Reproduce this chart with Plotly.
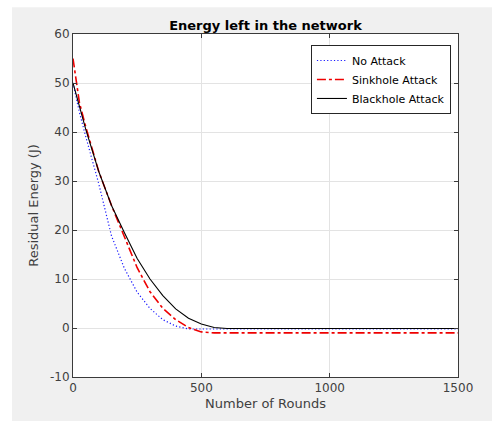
import plotly.graph_objects as go

# Data
rounds_no = [0, 25, 50, 100, 150, 200, 250, 300, 350, 400, 450, 500, 600, 800, 1000, 1200, 1500]
energy_no = [50, 44, 39, 29.5, 18.8, 12.2, 7.3, 4.0, 1.7, 0.4, -0.2, -0.2, -0.2, -0.2, -0.2, -0.2, -0.2]

rounds_sink = [0, 10, 25, 50, 100, 150, 200, 250, 300, 350, 400, 450, 500, 550, 600, 800, 1000, 1200, 1500]
energy_sink = [55, 51, 46, 41, 32, 25, 18.5, 12.3, 7.4, 4.0, 1.7, 0.1, -0.8, -1.0, -1.0, -1.0, -1.0, -1.0, -1.0]

rounds_black = [0, 25, 50, 100, 150, 200, 250, 300, 350, 400, 450, 500, 550, 600, 800, 1000, 1200, 1500]
energy_black = [50, 45, 40.5, 32, 25, 19.5, 14.2, 10, 6.6, 3.9, 2.0, 0.8, 0.1, -0.1, -0.1, -0.1, -0.1, -0.1]

x_ticks = [0, 500, 1000, 1500]
x_tick_labels = ["0", "500", "1000", "1500"]
y_ticks = [-10, 0, 10, 20, 30, 40, 50, 60]
y_tick_labels = ["-10", "0", "10", "20", "30", "40", "50", "60"]

fig = go.Figure()
fig.add_trace(go.Scatter(x=rounds_no, y=energy_no, mode="lines", name="No Attack",
                         line=dict(color="#1a1aff", width=1.2, dash="1.2px,2.2px")))
fig.add_trace(go.Scatter(x=rounds_sink, y=energy_sink, mode="lines", name="Sinkhole Attack",
                         line=dict(color="#ee0000", width=1.6, dash="dashdot")))
fig.add_trace(go.Scatter(x=rounds_black, y=energy_black, mode="lines", name="Blackhole Attack",
                         line=dict(color="#000000", width=1.1)))

font = "DejaVu Sans"
axis_common = dict(
    showgrid=True, gridcolor="#e3e3e3", gridwidth=1,
    showline=True, linecolor="#3a3a3a", linewidth=1, mirror="ticks",
    ticks="inside", ticklen=4, tickcolor="#3a3a3a",
    zeroline=False,
    tickfont=dict(family=font, size=12, color="#404040"),
)

fig.update_layout(
    width=492, height=421,
    margin=dict(l=73, r=34, t=34, b=41),
    paper_bgcolor="white", plot_bgcolor="white",
    title=dict(text="<b>Energy left in the network</b>", x=0.5, xanchor="center",
               xref="paper", y=1 - 25 / 421, yanchor="middle",
               font=dict(family=font, size=13, color="#000000")),
    xaxis=dict(range=[0, 1500], tickvals=x_ticks, ticktext=x_tick_labels,
               title=dict(text="Number of Rounds", standoff=4,
                          font=dict(family=font, size=13, color="#404040")),
               **axis_common),
    yaxis=dict(range=[-10, 60], tickvals=y_ticks, ticktext=y_tick_labels,
               title=dict(text="Residual Energy (J)", standoff=8,
                          font=dict(family=font, size=13, color="#404040")),
               **axis_common),
    legend=dict(x=0.618, y=0.968, xanchor="left", yanchor="top",
                bgcolor="white", bordercolor="#262626", borderwidth=1,
                font=dict(family=font, size=11, color="#000000"),
                tracegroupgap=0, itemwidth=30),
    showlegend=True,
    shapes=[
        dict(type="rect", xref="paper", yref="paper", x0=(12 - 73) / 385, x1=(500 - 73) / 385,
             y0=(380 - 430) / 346, y1=(380 - 7) / 346, fillcolor="#f0f0f0",
             line=dict(width=0), layer="below"),
        dict(type="rect", xref="paper", yref="paper", x0=0, x1=1, y0=0, y1=1,
             fillcolor="white", line=dict(width=0), layer="below"),
    ],
)

fig.write_html("out.html")
